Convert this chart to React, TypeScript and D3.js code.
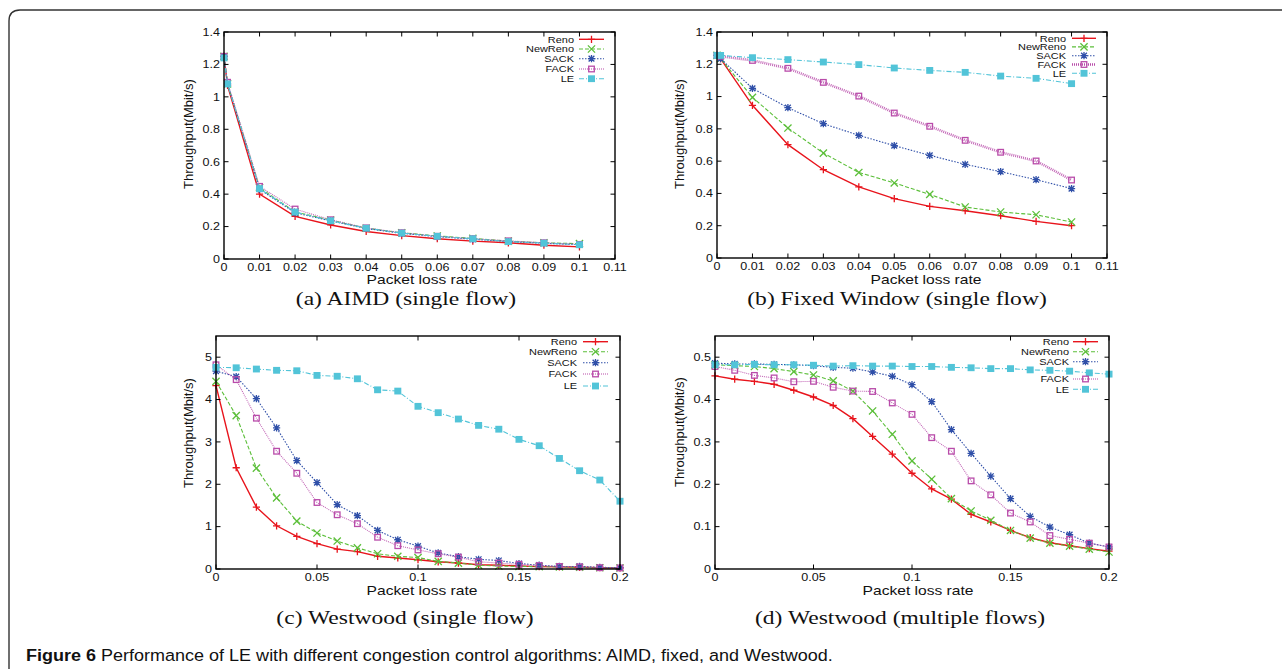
import React from "react";
import * as d3 from "d3";

// ---------- DATA ----------
const seriesNames = ["Reno", "NewReno", "SACK", "FACK", "LE"];

const xSmall = [0, 0.001, 0.01, 0.02, 0.03, 0.04, 0.05, 0.06, 0.07, 0.08, 0.09, 0.1];
const xLarge = [0, 0.01, 0.02, 0.03, 0.04, 0.05, 0.06, 0.07, 0.08, 0.09, 0.1, 0.11, 0.12, 0.13, 0.14, 0.15, 0.16, 0.17, 0.18, 0.19, 0.2];

const ticksSmallX = [0, 0.01, 0.02, 0.03, 0.04, 0.05, 0.06, 0.07, 0.08, 0.09, 0.1, 0.11];
const ticksSmallY = [0, 0.2, 0.4, 0.6, 0.8, 1, 1.2, 1.4];
const ticksLargeX = [0, 0.05, 0.1, 0.15, 0.2];
const ticksWestSingleY = [0, 1, 2, 3, 4, 5];
const ticksWestMultiY = [0, 0.1, 0.2, 0.3, 0.4, 0.5];

// (a) AIMD single flow
const aimdReno = [1.25, 1.07, 0.4, 0.263, 0.21, 0.17, 0.144, 0.125, 0.11, 0.1, 0.085, 0.075];
const aimdNewReno = [1.25, 1.08, 0.44, 0.29, 0.24, 0.19, 0.162, 0.142, 0.127, 0.11, 0.1, 0.095];
const aimdSack = [1.25, 1.08, 0.43, 0.285, 0.235, 0.188, 0.158, 0.138, 0.122, 0.108, 0.097, 0.088];
const aimdFack = [1.25, 1.09, 0.448, 0.308, 0.242, 0.192, 0.162, 0.14, 0.125, 0.112, 0.1, 0.09];
const aimdLe = [1.24, 1.08, 0.434, 0.29, 0.236, 0.19, 0.16, 0.14, 0.125, 0.107, 0.098, 0.088];

// (b) Fixed window single flow
const fixedReno = [1.255, 1.235, 0.946, 0.702, 0.547, 0.44, 0.368, 0.32, 0.293, 0.262, 0.227, 0.2];
const fixedNewReno = [1.255, 1.235, 0.995, 0.805, 0.65, 0.53, 0.465, 0.394, 0.316, 0.285, 0.268, 0.223];
const fixedSack = [1.255, 1.235, 1.051, 0.931, 0.832, 0.76, 0.696, 0.636, 0.58, 0.535, 0.485, 0.43];
const fixedFack = [1.255, 1.25, 1.224, 1.175, 1.088, 1.003, 0.898, 0.816, 0.729, 0.655, 0.601, 0.483];
const fixedLe = [1.255, 1.255, 1.241, 1.229, 1.214, 1.198, 1.177, 1.162, 1.15, 1.127, 1.113, 1.08];

// (c) Westwood single flow
const wsReno = [4.33, 2.39, 1.46, 1.02, 0.77, 0.6, 0.47, 0.41, 0.3, 0.26, 0.22, 0.17, 0.14, 0.1, 0.09, 0.07, 0.055, 0.05, 0.04, 0.03, 0.025];
const wsNewReno = [4.43, 3.62, 2.38, 1.68, 1.13, 0.85, 0.66, 0.5, 0.36, 0.3, 0.27, 0.18, 0.14, 0.09, 0.07, 0.06, 0.055, 0.05, 0.04, 0.03, 0.025];
const wsSack = [4.67, 4.54, 4.02, 3.33, 2.56, 2.04, 1.52, 1.26, 0.91, 0.69, 0.54, 0.38, 0.29, 0.23, 0.2, 0.13, 0.09, 0.06, 0.06, 0.04, 0.03];
const wsFack = [4.82, 4.47, 3.56, 2.78, 2.26, 1.57, 1.28, 1.07, 0.75, 0.55, 0.45, 0.36, 0.28, 0.17, 0.14, 0.11, 0.08, 0.06, 0.05, 0.03, 0.025];
const wsLe = [4.76, 4.75, 4.72, 4.69, 4.68, 4.57, 4.55, 4.49, 4.23, 4.2, 3.84, 3.69, 3.54, 3.39, 3.3, 3.06, 2.91, 2.61, 2.32, 2.1, 1.6];

// (d) Westwood multiple flows
const wmReno = [0.456, 0.448, 0.443, 0.436, 0.422, 0.406, 0.386, 0.355, 0.313, 0.271, 0.226, 0.189, 0.165, 0.129, 0.111, 0.091, 0.074, 0.062, 0.055, 0.048, 0.042];
const wmNewReno = [0.482, 0.48, 0.478, 0.473, 0.466, 0.458, 0.444, 0.42, 0.373, 0.318, 0.255, 0.212, 0.166, 0.137, 0.115, 0.091, 0.073, 0.061, 0.054, 0.047, 0.04];
const wmSack = [0.486, 0.484, 0.484, 0.483, 0.482, 0.48, 0.476, 0.474, 0.465, 0.455, 0.435, 0.395, 0.329, 0.273, 0.219, 0.166, 0.124, 0.099, 0.081, 0.061, 0.052];
const wmFack = [0.478, 0.469, 0.457, 0.451, 0.442, 0.443, 0.429, 0.42, 0.419, 0.392, 0.365, 0.31, 0.278, 0.208, 0.175, 0.132, 0.111, 0.079, 0.07, 0.061, 0.052];
const wmLe = [0.482, 0.482, 0.483, 0.482, 0.482, 0.481, 0.479, 0.48, 0.479, 0.479, 0.478, 0.478, 0.476, 0.475, 0.473, 0.473, 0.47, 0.469, 0.467, 0.463, 0.46];

const captions = [
  "(a) AIMD (single flow)",
  "(b) Fixed Window (single flow)",
  "(c) Westwood (single flow)",
  "(d) Westwood (multiple flows)",
];
const xTitle = "Packet loss rate";
const yTitle = "Throughput(Mbit/s)";
const figLabel = "Figure 6";
const figText = " Performance of LE with different congestion control algorithms: AIMD, fixed, and Westwood.";

// ---------- STYLES ----------
const colors = ["#e8141c", "#5cbf3a", "#2f4fa8", "#b94caa", "#52c4d8"];
const dashes = ["", "4,2", "1.5,1.5", "1,1", "5,2,1,2"];
const markers = ["plus", "cross", "star", "square", "filled"];
const sansFont = "'Liberation Sans', Arial, sans-serif";
const serifFont = "'Liberation Serif', 'Times New Roman', serif";
const STRETCH = 1.14; // the reference figure is stretched horizontally

function SText(props: {
  x: number;
  y: number;
  sx?: number;
  anchor?: string;
  size: number;
  font: string;
  dy?: string;
  children: React.ReactNode;
  weight?: string;
}) {
  const sx = props.sx ?? STRETCH;
  return (
    <text
      transform={`translate(${props.x},${props.y}) scale(${sx},1)`}
      textAnchor={props.anchor || "start"}
      fontFamily={props.font}
      fontSize={props.size}
      fontWeight={props.weight}
      dy={props.dy}
      fill="#111"
    >
      {props.children}
    </text>
  );
}

function markerPath(kind: string, x: number, y: number, s: number) {
  const p = d3.path();
  if (kind === "plus" || kind === "star") {
    p.moveTo(x - s, y); p.lineTo(x + s, y);
    p.moveTo(x, y - s); p.lineTo(x, y + s);
  }
  if (kind === "cross" || kind === "star") {
    const c = kind === "star" ? s * 0.8 : s;
    p.moveTo(x - c, y - c); p.lineTo(x + c, y + c);
    p.moveTo(x - c, y + c); p.lineTo(x + c, y - c);
  }
  return p.toString();
}

function Marker({ kind, x, y, color }: { kind: string; x: number; y: number; color: string }) {
  if (kind === "square") {
    return <rect x={x - 2.8} y={y - 2.8} width={5.6} height={5.6} fill="none" stroke={color} strokeWidth={1.3} />;
  }
  if (kind === "filled") {
    return <rect x={x - 3.5} y={y - 3.4} width={7} height={6.8} fill={color} stroke="none" />;
  }
  return <path d={markerPath(kind, x, y, 3.6)} stroke={color} strokeWidth={1.3} fill="none" />;
}

type PanelProps = {
  box: { l: number; t: number; r: number; b: number };
  xDomain: [number, number];
  yDomain: [number, number];
  xTicks: number[];
  yTicks: number[];
  xs: number[];
  data: number[][];
  legend: { textRight: number; lineX0: number; lineX1: number; rows: number[] };
  yTitleX: number;
  yTitleY: number;
  xTitleX: number;
  xTitleY: number;
  fackWidth: number;
};

function fmt(v: number) {
  return String(+v.toFixed(3));
}

function Panel(p: PanelProps) {
  const x = d3.scaleLinear().domain(p.xDomain).range([p.box.l, p.box.r]);
  const y = d3.scaleLinear().domain(p.yDomain).range([p.box.b, p.box.t]);
  const line = d3
    .line<number>()
    .x((_, i) => x(p.xs[i]))
    .y((d) => y(d));
  const tl = 4.5;
  return (
    <g>
      {/* series */}
      {p.data.map((vals, si) => (
        <g key={si}>
          <path
            d={line(vals) || ""}
            fill="none"
            stroke={colors[si]}
            strokeWidth={si === 3 ? p.fackWidth : si === 0 ? 1.4 : 1.1}
            strokeDasharray={dashes[si]}
            opacity={si === 3 ? 0.85 : 1}
          />
          {vals.map((v, i) => (
            <Marker key={i} kind={markers[si]} x={x(p.xs[i])} y={y(v)} color={colors[si]} />
          ))}
        </g>
      ))}
      {/* ticks */}
      {p.xTicks.map((t) => (
        <g key={"x" + t}>
          <line x1={x(t)} x2={x(t)} y1={p.box.b} y2={p.box.b - tl} stroke="#000" strokeWidth={1} />
          <line x1={x(t)} x2={x(t)} y1={p.box.t} y2={p.box.t + tl} stroke="#000" strokeWidth={1} />
          <SText x={x(t)} y={p.box.b + 11.5} anchor="middle" font={sansFont} size={11}>
            {fmt(t)}
          </SText>
        </g>
      ))}
      {p.yTicks.map((t) => (
        <g key={"y" + t}>
          <line x1={p.box.l} x2={p.box.l + tl} y1={y(t)} y2={y(t)} stroke="#000" strokeWidth={1} />
          <line x1={p.box.r} x2={p.box.r - tl} y1={y(t)} y2={y(t)} stroke="#000" strokeWidth={1} />
          <SText x={p.box.l - 4} y={y(t)} dy="0.35em" anchor="end" font={sansFont} size={11}>
            {fmt(t)}
          </SText>
        </g>
      ))}
      <rect
        x={p.box.l}
        y={p.box.t}
        width={p.box.r - p.box.l}
        height={p.box.b - p.box.t}
        fill="none"
        stroke="#000"
        strokeWidth={1.4}
      />
      {/* titles */}
      <text
        transform={`translate(${p.yTitleX},${p.yTitleY}) rotate(-90)`}
        dy="0.35em"
        textAnchor="middle"
        fontFamily={sansFont}
        fontSize={13}
        fill="#111"
      >
        {yTitle}
      </text>
      <SText x={p.xTitleX} y={p.xTitleY} anchor="middle" font={sansFont} size={13} sx={1.2}>
        {xTitle}
      </SText>
      {/* legend */}
      {seriesNames.map((n, si) => {
        const ry = p.legend.rows[si];
        const mx = (p.legend.lineX0 + p.legend.lineX1) / 2;
        return (
          <g key={n}>
            <SText x={p.legend.textRight} y={ry} dy="0.35em" anchor="end" font={sansFont} size={9.6}>
              {n}
            </SText>
            <line
              x1={p.legend.lineX0}
              x2={p.legend.lineX1}
              y1={ry}
              y2={ry}
              stroke={colors[si]}
              strokeWidth={si === 3 ? p.fackWidth : si === 0 ? 1.4 : 1.1}
              strokeDasharray={dashes[si]}
            />
            <Marker kind={markers[si]} x={mx} y={ry} color={colors[si]} />
          </g>
        );
      })}
    </g>
  );
}

export default function App() {
  return (
    <svg
      width={1282}
      height={671}
      viewBox="0 0 1282 671"
      style={{ position: "absolute", left: 0, top: 0, background: "#fff" }}
    >
      <rect x={0} y={0} width={1282} height={671} fill="#fff" />
      <path d="M 9 669 V 21 Q 9 10 20 10 H 1282" fill="none" stroke="#333" strokeWidth={1.4} />

      <Panel
        box={{ l: 224, t: 32, r: 615, b: 259 }}
        xDomain={[0, 0.11]}
        yDomain={[0, 1.4]}
        xTicks={ticksSmallX}
        yTicks={ticksSmallY}
        xs={xSmall}
        data={[aimdReno, aimdNewReno, aimdSack, aimdFack, aimdLe]}
        legend={{ textRight: 574, lineX0: 579, lineX1: 604, rows: [39.3, 49, 58.7, 69, 78.7] }}
        yTitleX={188}
        yTitleY={134}
        xTitleX={422}
        xTitleY={284}
        fackWidth={1.1}
      />
      <Panel
        box={{ l: 717, t: 32, r: 1107, b: 258 }}
        xDomain={[0, 0.11]}
        yDomain={[0, 1.4]}
        xTicks={ticksSmallX}
        yTicks={ticksSmallY}
        xs={xSmall}
        data={[fixedReno, fixedNewReno, fixedSack, fixedFack, fixedLe]}
        legend={{ textRight: 1066, lineX0: 1072, lineX1: 1096, rows: [38.3, 46.9, 55.7, 64.5, 73.3] }}
        yTitleX={679}
        yTitleY={134}
        xTitleX={926}
        xTitleY={284}
        fackWidth={2.6}
      />
      <Panel
        box={{ l: 216, t: 336, r: 620, b: 569 }}
        xDomain={[0, 0.2]}
        yDomain={[0, 5.5]}
        xTicks={ticksLargeX}
        yTicks={ticksWestSingleY}
        xs={xLarge}
        data={[wsReno, wsNewReno, wsSack, wsFack, wsLe]}
        legend={{ textRight: 577, lineX0: 583, lineX1: 608, rows: [341.7, 351.7, 362.7, 374, 386] }}
        yTitleX={188}
        yTitleY={433}
        xTitleX={422}
        xTitleY={595}
        fackWidth={1.1}
      />
      <Panel
        box={{ l: 715, t: 336, r: 1109, b: 569 }}
        xDomain={[0, 0.2]}
        yDomain={[0, 0.55]}
        xTicks={ticksLargeX}
        yTicks={ticksWestMultiY}
        xs={xLarge}
        data={[wmReno, wmNewReno, wmSack, wmFack, wmLe]}
        legend={{ textRight: 1069, lineX0: 1073, lineX1: 1098, rows: [341.7, 351.7, 361.7, 379, 389.3] }}
        yTitleX={679}
        yTitleY={432}
        xTitleX={918}
        xTitleY={595}
        fackWidth={1.1}
      />

      {/* sub-captions */}
      <SText x={406} y={305} anchor="middle" font={serifFont} size={19} sx={1.24}>{captions[0]}</SText>
      <SText x={897} y={305} anchor="middle" font={serifFont} size={19} sx={1.24}>{captions[1]}</SText>
      <SText x={405} y={624} anchor="middle" font={serifFont} size={19} sx={1.24}>{captions[2]}</SText>
      <SText x={900} y={624} anchor="middle" font={serifFont} size={19} sx={1.24}>{captions[3]}</SText>

      {/* figure caption */}
      <SText x={26} y={661} font={sansFont} size={17} sx={1.06}>
        <tspan fontWeight="bold">{figLabel}</tspan>
        <tspan>{figText}</tspan>
      </SText>
    </svg>
  );
}
